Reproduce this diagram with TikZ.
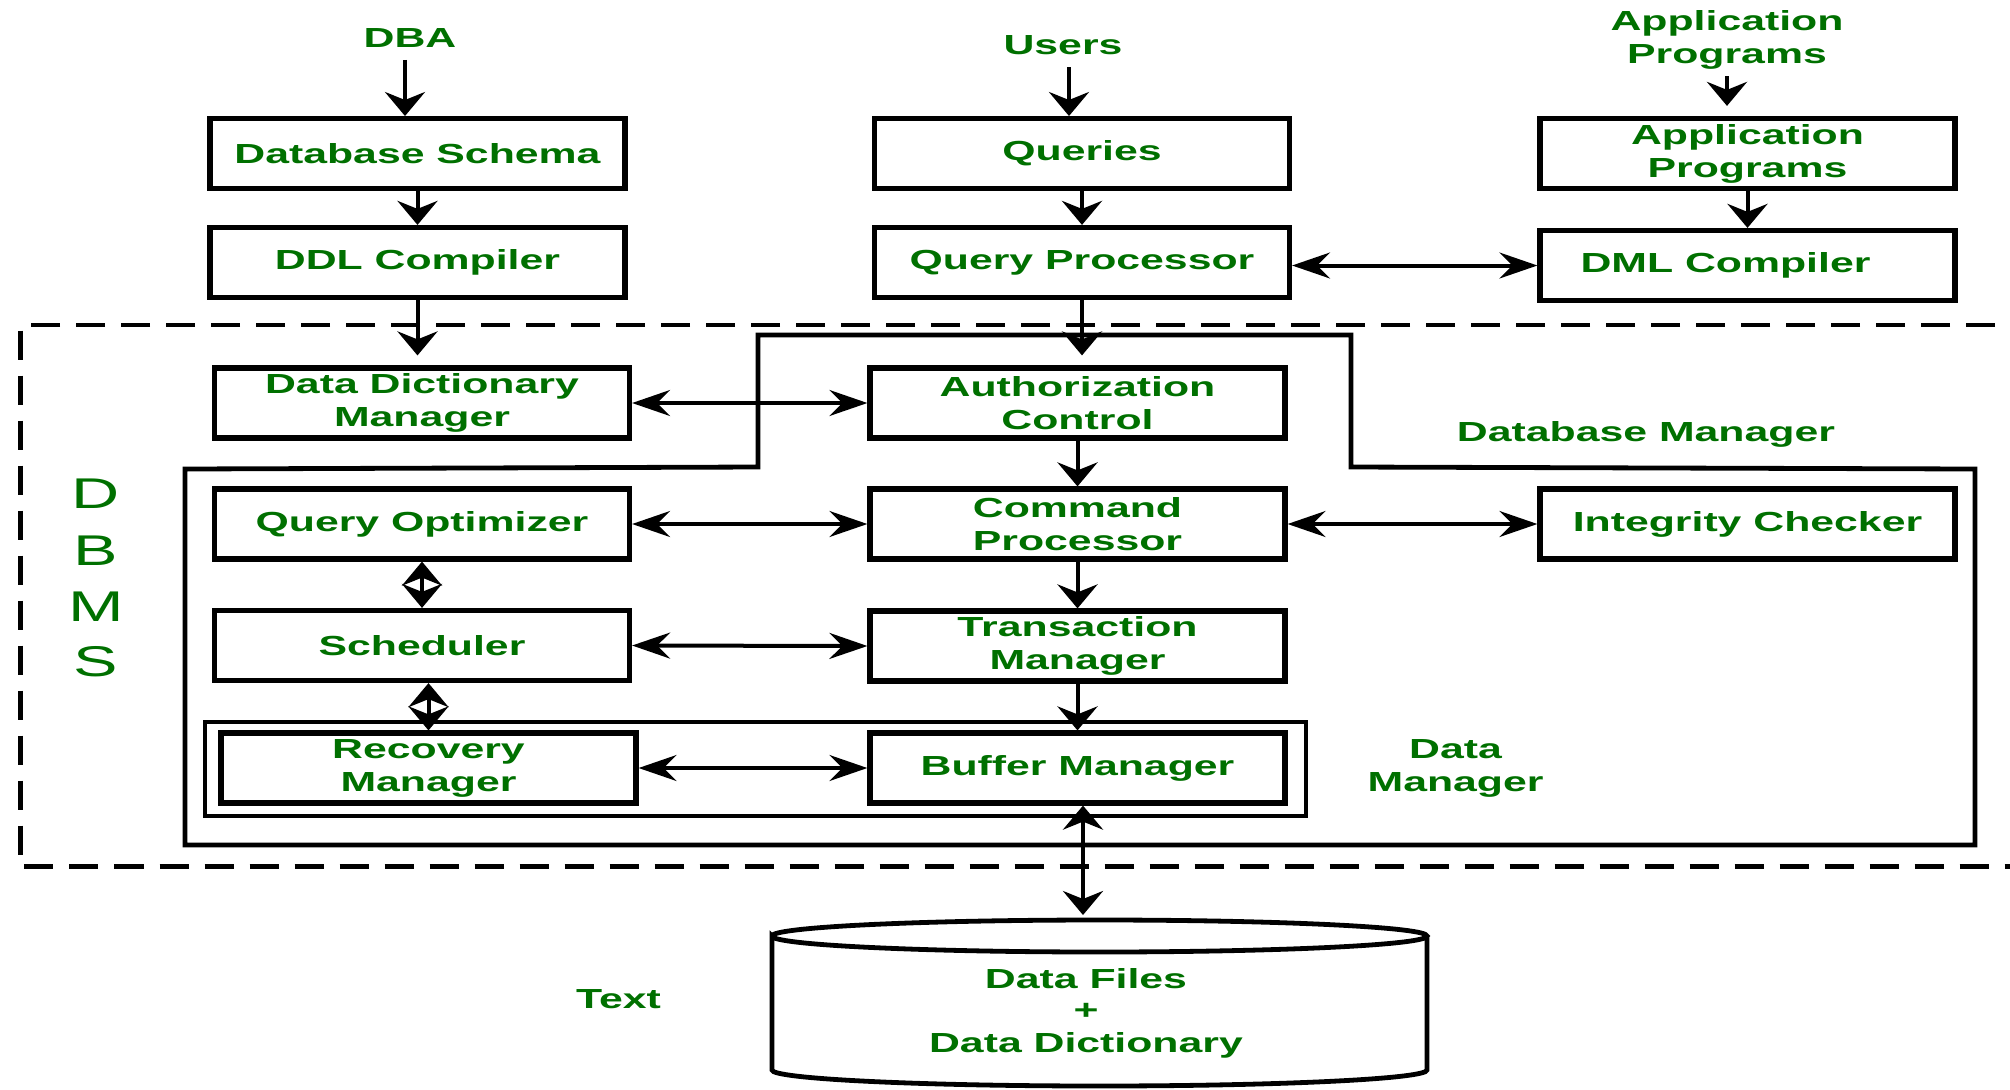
\documentclass[tikz,border=0pt]{standalone}
\usepackage{fontspec}
\setmainfont{Liberation Sans}
\usetikzlibrary{arrows.meta}
\definecolor{gtxt}{RGB}{0,112,0}
\newcommand{\hs}[1]{\scalebox{1.55}[1]{#1}}
\tikzset{
  blk/.style={draw, line width=2.6pt, minimum width=207.5pt, minimum height=35pt, inner sep=0pt,
    align=center, text=gtxt, font=\fontsize{13.8}{16.5}\selectfont\bfseries},
  lbl/.style={inner sep=0pt, align=center, text=gtxt, font=\fontsize{13.8}{16.5}\selectfont\bfseries},
  big/.style={inner sep=0pt, text=gtxt, font=\fontsize{21.5}{24}\selectfont},
  hhead/.tip={Stealth[length=19pt,width=13pt,inset=6.5pt]},
  vhead/.tip={Stealth[length=12pt,width=20pt,inset=4pt]},
  harr/.style={line width=2pt, hhead-hhead},
  varr/.style={line width=2pt, -vhead},
  vtwo/.style={line width=2pt, vhead-vhead},
  frame/.style={line width=2.4pt},
}
\begin{document}
\begin{tikzpicture}[x=0.5pt,y=-0.5pt]
\useasboundingbox (0,0) rectangle (2010,1089);
% outer dashed DBMS boundary
\draw[line width=2.2pt, dash pattern=on 14.5pt off 8pt] (2040,325) -- (20.5,325) -- (20.5,866.5) -- (2040,866.5);
% database manager outline
\draw[frame] (758,335) -- (1351,335) -- (1351,467) -- (1975,469) -- (1975,845) -- (185,845) -- (185,469) -- (758,467) -- cycle;
% data manager frame
\draw[frame] (205,722) rectangle (1306,816);

% top labels
\node[lbl] (dba) at (410,38) {\hs{DBA}};
\node[lbl] (users) at (1063,45) {\hs{Users}};
\node[lbl] (apptop) at (1727,40) {\hs{Application}\\\hs{Programs}};
\coordinate (appin) at (1727,76);

% boxes
\node[blk] (schema) at (417.5,153.5) {\hs{Database Schema}};
\node[blk] (ddl) at (417.5,262.5) {\hs{DDL Compiler}};
\node[blk] (queries) at (1082,153.5) {\hs{Queries}};
\node[blk] (qp) at (1082,262.5) {\hs{Query Processor}};
\node[blk] (appbox) at (1747.5,153.5) {\hs{Application}\\\hs{Programs}};
\node[blk] (dml) at (1747.5,265.5) {\hs{DML Compiler}\hspace{22pt}};
\node[blk] (ddm) at (422,403) {\hs{Data Dictionary}\\\hs{Manager}};
\node[blk] (auth) at (1077.5,403) {\hs{Authorization}\\\hs{Control}};
\node[blk] (qo) at (422,524) {\hs{Query Optimizer}};
\node[blk] (cmd) at (1077.5,524) {\hs{Command}\\\hs{Processor}};
\node[blk] (integ) at (1747.5,524) {\hs{Integrity Checker}};
\node[blk] (sched) at (422,645.5) {\hs{Scheduler}};
\node[blk] (trans) at (1077.5,646) {\hs{Transaction}\\\hs{Manager}};
\node[blk] (recov) at (428.5,768) {\hs{Recovery}\\\hs{Manager}};
\node[blk] (buffer) at (1077.5,768) {\hs{Buffer Manager}};

% side labels
\node[lbl] (dbmgr) at (1646,434.5) {\hs{Database Manager}};
\node[lbl] (dmgr) at (1455.6,768.5) {\hs{Data}\\\hs{Manager}};
\node[lbl] (txt) at (618.5,999) {\hs{Text}};
\node[big] (lD) at (96,494) {\hs{D}};
\node[big] (lB) at (96,551) {\hs{B}};
\node[big] (lM) at (96,607) {\hs{M}};
\node[big] (lS) at (96,662) {\hs{S}};

% cylinder (data files)
\draw[line width=2.4pt] (772,936) arc[start angle=180,end angle=360,x radius=327.5,y radius=16]
  arc[start angle=0,end angle=180,x radius=327.5,y radius=16] -- (772,1070)
  arc[start angle=180,end angle=0,x radius=327.5,y radius=16] -- (1427,936);
\node[lbl] (files) at (1086,1013) {\hs{Data Files}\\[-1pt]\hs{+}\\\hs{Data Dictionary}};
\coordinate (cyltop) at (1083,915);

% connectors
\draw[varr] ([yshift=-6pt]dba.south -| 405,0) -- (405,116);
\draw[varr] ([yshift=-6pt]users.south -| 1069,0) -- (1069,116);
\draw[varr] (appin) -- ([yshift=5pt]appbox.north -| appin);
\draw[varr] (schema.south) -- (ddl.north);
\draw[varr] (queries.south) -- (qp.north);
\draw[varr] (appbox.south) -- (dml.north);
\draw[harr] (dml.west -| qp.east) -- (dml.west);
\draw[varr, shorten >=5pt] (ddl.south) -- (ddl.south |- ddm.north);
\draw[varr, shorten >=5pt] (qp.south) -- (qp.south |- auth.north);
\draw[harr] (ddm.east) -- (auth.west);
\draw[varr] (auth.south) -- (cmd.north);
\draw[harr] (qo.east) -- (cmd.west);
\draw[harr] (cmd.east) -- (integ.west);
\draw[vtwo] (qo.south) -- (sched.north);
\draw[varr] (cmd.south) -- (trans.north);
\draw[harr] (sched.east) -- (trans.west);
\draw[vtwo] (recov.north |- sched.south) -- (recov.north);
\draw[varr] (trans.south) -- (buffer.north);
\draw[harr] (recov.east) -- (buffer.west);
\draw[vtwo] (cyltop |- buffer.south) -- (cyltop);
\end{tikzpicture}
\end{document}
